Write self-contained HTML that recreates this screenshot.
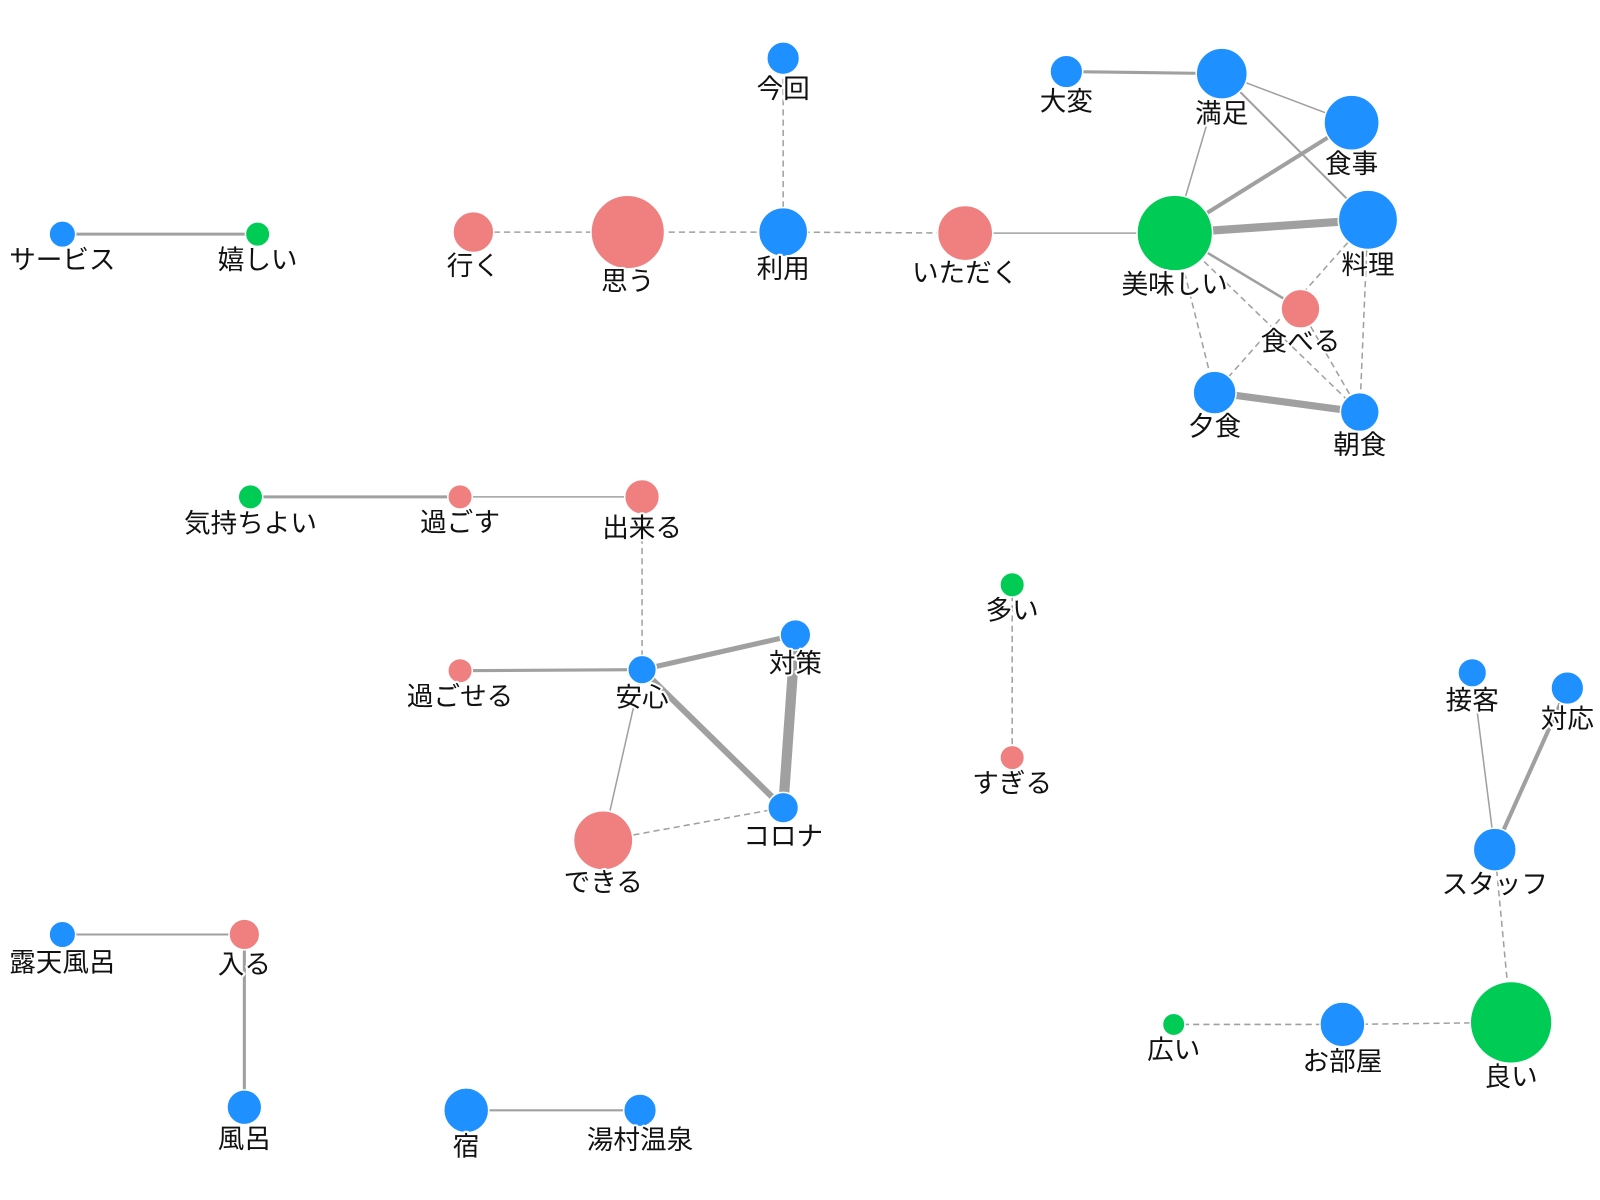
<!DOCTYPE html>
<html><head><meta charset="utf-8"><style>
html,body{margin:0;padding:0;background:#fff;}
svg{display:block;}
text{font-family:"Liberation Sans","Noto Sans CJK JP",sans-serif;font-size:26px;fill:#111;text-anchor:middle;paint-order:stroke;stroke:#fff;stroke-width:4px;stroke-linejoin:round;}
circle{stroke:#fff;stroke-width:1.5;}
.b{fill:#1e90ff}.g{fill:#00cc55}.r{fill:#f08080}
line{stroke:#a0a0a0;}
.d{stroke-dasharray:6,4;stroke-width:1.5}
</style></head><body>
<svg width="1600" height="1200" viewBox="0 0 1600 1200">
<g transform="scale(1.0224)">
<g>
<line x1="61" y1="229" x2="252" y2="229" stroke-width="3"/>
<line x1="463" y1="227" x2="614" y2="227" class="d"/>
<line x1="614" y1="227" x2="766" y2="227" class="d"/>
<line x1="766" y1="57" x2="766" y2="227" class="d"/>
<line x1="766" y1="227" x2="944" y2="228" class="d"/>
<line x1="944" y1="228" x2="1149" y2="228" stroke-width="1.5"/>
<line x1="1043" y1="70" x2="1195" y2="72" stroke-width="3"/>
<line x1="1195" y1="72" x2="1322" y2="120" stroke-width="1.5"/>
<line x1="1195" y1="72" x2="1338" y2="215" stroke-width="2"/>
<line x1="1195" y1="72" x2="1149" y2="228" stroke-width="1.5"/>
<line x1="1149" y1="228" x2="1322" y2="120" stroke-width="4"/>
<line x1="1149" y1="228" x2="1338" y2="215" stroke-width="8"/>
<line x1="1149" y1="228" x2="1272" y2="302" stroke-width="2.5"/>
<line x1="1149" y1="228" x2="1330" y2="403" class="d"/>
<line x1="1149" y1="228" x2="1188" y2="384" class="d"/>
<line x1="1338" y1="215" x2="1188" y2="384" class="d"/>
<line x1="1338" y1="215" x2="1330" y2="403" class="d"/>
<line x1="1272" y1="302" x2="1330" y2="403" class="d"/>
<line x1="1188" y1="384" x2="1330" y2="403" stroke-width="7"/>
<line x1="245" y1="486" x2="450" y2="486" stroke-width="3"/>
<line x1="450" y1="486" x2="628" y2="486" stroke-width="1.5"/>
<line x1="628" y1="486" x2="628" y2="655" class="d"/>
<line x1="450" y1="656" x2="628" y2="655" stroke-width="3"/>
<line x1="628" y1="655" x2="778" y2="621" stroke-width="5"/>
<line x1="628" y1="655" x2="766" y2="790" stroke-width="6"/>
<line x1="778" y1="621" x2="766" y2="790" stroke-width="10"/>
<line x1="628" y1="655" x2="590" y2="822" stroke-width="1.5"/>
<line x1="590" y1="822" x2="766" y2="790" class="d"/>
<line x1="990" y1="572" x2="990" y2="741" class="d"/>
<line x1="1440" y1="658" x2="1462" y2="831" stroke-width="1.5"/>
<line x1="1533" y1="673" x2="1462" y2="831" stroke-width="4"/>
<line x1="1462" y1="831" x2="1478" y2="1000" class="d"/>
<line x1="1478" y1="1000" x2="1313" y2="1002" class="d"/>
<line x1="1313" y1="1002" x2="1148" y2="1002" class="d"/>
<line x1="61" y1="914" x2="239" y2="914" stroke-width="2"/>
<line x1="239" y1="914" x2="239" y2="1083" stroke-width="3"/>
<line x1="456" y1="1086" x2="626" y2="1086" stroke-width="2"/>
</g>
<g>
<circle cx="61" cy="229" r="13" class="b"/><circle cx="252" cy="229" r="12" class="g"/>
<circle cx="463" cy="227" r="20" class="r"/><circle cx="614" cy="227" r="36" class="r"/>
<circle cx="766" cy="227" r="24" class="b"/><circle cx="766" cy="57" r="16" class="b"/>
<circle cx="944" cy="228" r="27" class="r"/><circle cx="1149" cy="228" r="37" class="g"/>
<circle cx="1043" cy="70" r="16" class="b"/><circle cx="1195" cy="72" r="25" class="b"/>
<circle cx="1322" cy="120" r="27" class="b"/><circle cx="1338" cy="215" r="29" class="b"/>
<circle cx="1272" cy="302" r="19" class="r"/><circle cx="1188" cy="384" r="21" class="b"/>
<circle cx="1330" cy="403" r="19" class="b"/>
<circle cx="245" cy="486" r="12" class="g"/><circle cx="450" cy="486" r="12" class="r"/>
<circle cx="628" cy="486" r="17" class="r"/>
<circle cx="450" cy="656" r="12" class="r"/><circle cx="628" cy="655" r="14" class="b"/>
<circle cx="778" cy="621" r="15" class="b"/><circle cx="766" cy="790" r="15" class="b"/>
<circle cx="590" cy="822" r="29" class="r"/>
<circle cx="990" cy="572" r="12" class="g"/><circle cx="990" cy="741" r="12" class="r"/>
<circle cx="1440" cy="658" r="14" class="b"/><circle cx="1533" cy="673" r="16" class="b"/>
<circle cx="1462" cy="831" r="21" class="b"/><circle cx="1478" cy="1000" r="40" class="g"/>
<circle cx="1313" cy="1002" r="22" class="b"/><circle cx="1148" cy="1002" r="11" class="g"/>
<circle cx="61" cy="914" r="13" class="b"/><circle cx="239" cy="914" r="15" class="r"/>
<circle cx="239" cy="1083" r="17" class="b"/>
<circle cx="456" cy="1086" r="22" class="b"/><circle cx="626" cy="1086" r="16" class="b"/>
</g>
<g>
<text x="61" y="263">サービス</text><text x="252" y="263">嬉しい</text>
<text x="463" y="269">行く</text><text x="614" y="284">思う</text>
<text x="766" y="272">利用</text><text x="766" y="96">今回</text>
<text x="944" y="276">いただく</text><text x="1149" y="287">美味しい</text>
<text x="1043" y="108">大変</text><text x="1195" y="120">満足</text>
<text x="1322" y="169">食事</text><text x="1338" y="268">料理</text>
<text x="1272" y="343">食べる</text><text x="1188" y="426">夕食</text>
<text x="1330" y="444">朝食</text>
<text x="245" y="521">気持ちよい</text><text x="450" y="520">過ごす</text>
<text x="628" y="525">出来る</text>
<text x="450" y="690">過ごせる</text><text x="628" y="691">安心</text>
<text x="778" y="658">対策</text><text x="766" y="827">コロナ</text>
<text x="590" y="872">できる</text>
<text x="990" y="606">多い</text><text x="990" y="775">すぎる</text>
<text x="1440" y="694">接客</text><text x="1533" y="712">対応</text>
<text x="1462" y="874">スタッフ</text><text x="1478" y="1062">良い</text>
<text x="1313" y="1047">お部屋</text><text x="1148" y="1036">広い</text>
<text x="61" y="950">露天風呂</text><text x="239" y="952">入る</text>
<text x="239" y="1123">風呂</text>
<text x="456" y="1130">宿</text><text x="626" y="1124">湯村温泉</text>
</g>
</g>
</svg>
</body></html>
